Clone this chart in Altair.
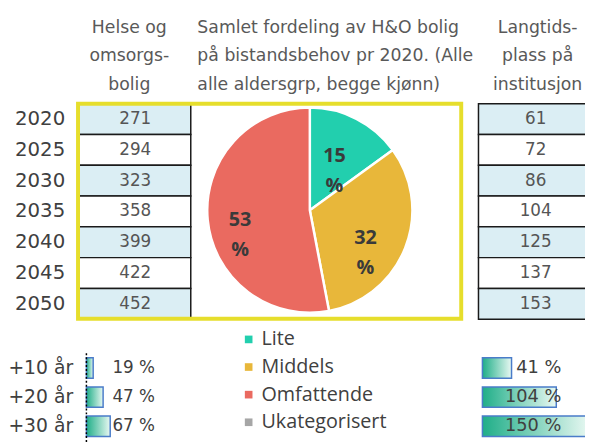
import altair as alt
import pandas as pd

# ---------------- data ----------------
years = ["2020", "2025", "2030", "2035", "2040", "2045", "2050"]
ho_values = [271, 294, 323, 358, 399, 422, 452]
lt_values = [61, 72, 86, 104, 125, 137, 153]

pie_categories = ["Lite", "Middels", "Omfattende", "Ukategorisert"]
pie_shares = [15, 32, 53]
pie_colors = ["#22cfae", "#e8b73a", "#ea6a60", "#a6a6a6"]

growth_labels = ["+10 år", "+20 år", "+30 år"]
ho_growth = [19, 47, 67]
lt_growth = [41, 104, 150]

header_ho = ["Helse og", "omsorgs-", "bolig"]
header_pie = ["Samlet fordeling av H&O bolig", "på bistandsbehov pr 2020. (Alle", "alle aldersgrp, begge kjønn)"]
header_lt = ["Langtids-", "plass på", "institusjon"]

# ---------------- tables ----------------
top_df = pd.DataFrame({"year": years, "ho": ho_values, "lt": lt_values})
pie_df = pd.DataFrame({"category": pie_categories[:len(pie_shares)], "share": pie_shares})
grow_df = pd.DataFrame({"label": growth_labels, "ho": ho_growth, "lt": lt_growth})
one = pd.DataFrame({"k": [0]})

FONT = "DejaVu Sans"
LIGHT = "#dbeef4"
TXT = "#404040"

row_band = alt.Scale(type="band", domain=years, range=[94, 312.5], paddingInner=0, paddingOuter=0)
row_point = alt.Scale(type="point", domain=years, range=[94, 312.5], padding=0.5)
g_band = alt.Scale(type="band", domain=growth_labels, range=[347.25, 435.75], paddingInner=0.3, paddingOuter=0.15)
g_point = alt.Scale(type="point", domain=growth_labels, range=[347.25, 435.75], padding=0.5)
ho_x = alt.Scale(domain=[0, 100], range=[79.5, 115.5])
lt_x = alt.Scale(domain=[0, 100], range=[481, 553])

shade = alt.condition("(toNumber(datum.year) - 2020) % 10 == 0", alt.value(LIGHT), alt.value("white"))

gradient = alt.Gradient(
    gradient="linear",
    stops=[alt.GradientStop(color="#1fae88", offset=0), alt.GradientStop(color="#e8f8f2", offset=1)],
    x1=0, x2=1, y1=0, y2=0,
)

PIE_X, PIE_Y = 306, 202

# year labels
year_text = alt.Chart(top_df).mark_text(align="right", baseline="middle", font=FONT, fontSize=20, color=TXT).encode(
    y=alt.Y("year:N", scale=row_point, axis=None), x=alt.value(58), text="year:N")

# left table
ho_cells = alt.Chart(top_df).mark_rect(stroke="#1a1a1a", strokeWidth=1.5).encode(
    y=alt.Y("year:N", scale=row_band, axis=None), x=alt.value(71), x2=alt.value(185.3), fill=shade)
ho_text = alt.Chart(top_df).mark_text(baseline="middle", font=FONT, fontSize=17, color="#555555").encode(
    y=alt.Y("year:N", scale=row_point, axis=None), x=alt.value(129), text="ho:Q")

# right table
lt_cells = alt.Chart(top_df).mark_rect(stroke="#1a1a1a", strokeWidth=1.5).encode(
    y=alt.Y("year:N", scale=row_band, axis=None), x=alt.value(477), x2=alt.value(600), fill=shade)
lt_text = alt.Chart(top_df).mark_text(baseline="middle", font=FONT, fontSize=17, color="#555555").encode(
    y=alt.Y("year:N", scale=row_point, axis=None), x=alt.value(535), text="lt:Q")

# yellow frame
frame = alt.Chart(one).mark_rect(fill=None, stroke="#e6de2c", strokeWidth=4).encode(
    x=alt.value(71), x2=alt.value(459.5), y=alt.value(94), y2=alt.value(312))

# pie
pie = alt.Chart(pie_df).mark_arc(outerRadius=104, stroke="white", strokeWidth=2.5).encode(
    theta=alt.Theta("share:Q", stack=True),
    color=alt.Color("category:N", scale=alt.Scale(domain=pie_categories, range=pie_colors),
                    legend=alt.Legend(orient="none", legendX=234, legendY=323, direction="vertical",
                                      title=None, symbolType="square", symbolSize=60, symbolStrokeWidth=0,
                                      labelFont="Open Sans", labelFontSize=20, labelColor=TXT,
                                      rowPadding=8, labelOffset=3, padding=0)),
    order=alt.Order("category:N"),
    x=alt.value(PIE_X), y=alt.value(PIE_Y),
)
pie_labels = alt.Chart(pie_df).transform_calculate(lbl="datum.share + '\\n%'").mark_text(
    radius=66, font="Open Sans", fontSize=20, fontWeight="bold", color="#3a3a3a",
    lineBreak="\n", lineHeight=30, dx=-5, dy=4).encode(
    theta=alt.Theta("share:Q", stack=True), order=alt.Order("category:N"), text="lbl:N",
    x=alt.value(PIE_X), y=alt.value(PIE_Y))

# headers
def header(lines, x, align, size):
    return alt.Chart(one).mark_text(align=align, baseline="middle", font=FONT, fontSize=size,
                                    color="#595959", lineBreak="\n", lineHeight=29,
                                    text="\n".join(lines)).encode(x=alt.value(x), y=alt.value(17))

h1 = header(header_ho, 123, "center", 17.5)
h2 = header(header_pie, 192, "left", 17.5)
h3 = header(header_lt, 537, "center", 17.5)

# bottom growth bars
g_lbl = alt.Chart(grow_df).mark_text(align="right", baseline="middle", font=FONT, fontSize=19, color=TXT).encode(
    y=alt.Y("label:N", scale=g_point, axis=None), x=alt.value(66), text="label:N")
dash = alt.Chart(one).mark_rule(strokeDash=[2, 2], color="black", strokeWidth=1.5).encode(
    x=alt.value(79.5), y=alt.value(347), y2=alt.value(440))
ho_bars = alt.Chart(grow_df).mark_bar(fill=gradient, stroke="#4a7cc9", strokeWidth=1.5).encode(
    y=alt.Y("label:N", scale=g_band, axis=None), x=alt.X("ho:Q", scale=ho_x, axis=None))
ho_pct = alt.Chart(grow_df).transform_calculate(p="datum.ho + ' %'").mark_text(
    align="right", baseline="middle", font=FONT, fontSize=17, color=TXT).encode(
    y=alt.Y("label:N", scale=g_point, axis=None), x=alt.value(149), text="p:N")
lt_bars = alt.Chart(grow_df).mark_bar(fill=gradient, stroke="#4a7cc9", strokeWidth=1.5).encode(
    y=alt.Y("label:N", scale=g_band, axis=None), x=alt.X("lt:Q", scale=lt_x, axis=None))
lt_pct = alt.Chart(grow_df).transform_calculate(p="datum.lt + ' %'").mark_text(
    align="right", baseline="middle", font=FONT, fontSize=18, color=TXT).encode(
    y=alt.Y("label:N", scale=g_point, axis=None), x=alt.value(561), text="p:N")

chart = alt.layer(
    year_text, ho_cells, ho_text, lt_cells, lt_text, pie, pie_labels, frame,
    h1, h2, h3, g_lbl, ho_bars, lt_bars, dash, ho_pct, lt_pct,
).resolve_scale(
    x="independent", y="independent", theta="independent", color="independent"
).properties(
    width=585, height=434, autosize="none", padding=0
).configure_view(stroke=None)

chart.save("out.html", embed_options={"renderer": "svg", "actions": False})
